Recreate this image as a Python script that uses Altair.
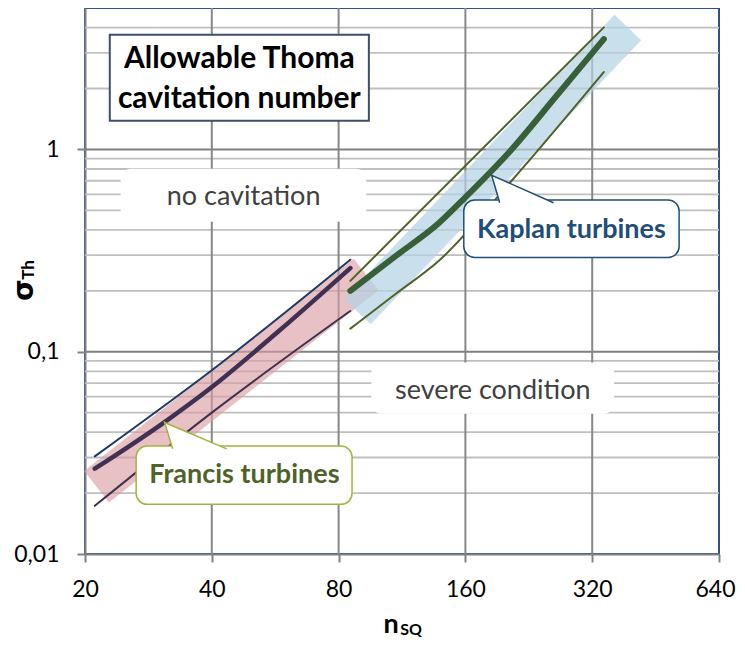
import altair as alt
import pandas as pd

# ---------------- data ----------------
x_ticks = [20, 40, 80, 160, 320, 640]
x_grid = [40, 80, 160, 320]
y_ticks = [0.01, 0.1, 1]
y_tick_labels = ["0,01", "0,1", "1"]
y_major_grid = [0.1, 1]
y_minor_grid = [0.02, 0.03, 0.04, 0.05, 0.06, 0.07, 0.08, 0.09,
                0.2, 0.3, 0.4, 0.5, 0.6, 0.7, 0.8, 0.9, 2, 3, 4]

# Francis turbines
francis_mid_n = [21.1, 30.9, 40.1, 57.7, 85.3]
francis_mid_s = [0.0264, 0.0449, 0.0671, 0.1265, 0.259]
francis_up_n = [21.1, 40, 85.3]
francis_up_s = [0.0304, 0.081, 0.285]
francis_lo_n = [21.1, 40, 85.3]
francis_lo_s = [0.0173, 0.05, 0.159]
francis_band_n = [21.3, 93.0]
francis_band_s = [0.0215, 0.241]

# Kaplan turbines
kaplan_mid_n = [85.3, 110, 138, 160, 206, 261, 341]
kaplan_mid_s = [0.2, 0.30, 0.43, 0.58, 1.0, 1.8, 3.51]
kaplan_up_n = [85.3, 341]
kaplan_up_s = [0.224, 4.01]
kaplan_lo_n = [85.3, 110, 138, 206, 341]
kaplan_lo_s = [0.13, 0.195, 0.28, 0.70, 2.41]
kaplan_band_n = [88.6, 388.8]
kaplan_band_s = [0.158, 4.01]

# annotations (data coordinates)
title_lines = ["Allowable Thoma", "cavitation number"]
title_line_s = [2.79, 1.77]
title_n = 46.5
title_box = dict(n1=22.9, n2=94.4, s1=3.69, s2=1.384)

zone_labels = ["no cavitation", "severe condition"]
zone_n = [47.6, 185.8]
zone_s = [0.583, 0.0642]
zone_box_n1 = [24.3, 95.7]
zone_box_n2 = [93.1, 360.6]
zone_box_s1 = [0.803, 0.0884]
zone_box_s2 = [0.4395, 0.0493]

kaplan_label = "Kaplan turbines"
kaplan_box = dict(n1=158.6, n2=514.6, s1=0.5616, s2=0.2922, tn=285.7, ts=0.4013)
kaplan_ptr_n = [193, 184.7, 259]
kaplan_ptr_s = [0.5446, 0.745, 0.5446]

francis_label = "Francis turbines"
francis_box = dict(n1=26.45, n2=86.1, s1=0.0342, s2=0.0176, tn=47.8, ts=0.02453)
francis_ptr_n = [32.3, 30.9, 43.4]
francis_ptr_s = [0.0331, 0.0447, 0.0331]

# ---------------- scales / axes ----------------
W, H = 634, 546
FONT = "Lato"
xs = alt.Scale(type="log", base=2, domain=[20, 640], nice=False)
ys = alt.Scale(type="log", base=10, domain=[0.01, 5], nice=False)

label_expr = " : ".join(
    f"datum.value < {v * 1.5} ? '{l}'" for v, l in zip(y_ticks[:-1], y_tick_labels[:-1])
) + f" : '{y_tick_labels[-1]}'"

x_axis = alt.Axis(values=x_ticks, title=None, grid=False, labelExpr="format(datum.value, 'd')",
                  domainColor="#808080", domainWidth=2, tickColor="#808080", tickWidth=2,
                  tickSize=8, labelFont=FONT, labelFontSize=23, labelColor="#000000",
                  labelPadding=16, labelFlush=False, labelOverlap=False,
                  labelOffset=alt.ExprRef("datum.value > 600 ? -4 : 0"))
y_axis = alt.Axis(values=y_ticks, title=None, grid=False, labelExpr=label_expr,
                  domainColor="#808080", domainWidth=2, tickColor="#808080", tickWidth=2,
                  tickSize=8, labelFont=FONT, labelFontSize=23, labelColor="#000000",
                  labelPadding=18, labelFlush=False, labelOverlap=False)


def X():
    return alt.X("n:Q", scale=xs, axis=x_axis)


def Y():
    return alt.Y("s:Q", scale=ys, axis=y_axis)


# ---------------- layers ----------------
def hrules(vals, color, width):
    return alt.Chart(pd.DataFrame({"s": vals})).mark_rule(color=color, strokeWidth=width).encode(y=Y())


def vrules(vals, color, width):
    return alt.Chart(pd.DataFrame({"n": vals})).mark_rule(color=color, strokeWidth=width).encode(x=X())


def line(ns, ss, color, width, opacity=1.0, cap="round", interp="monotone"):
    df = pd.DataFrame({"n": ns, "s": ss, "o": list(range(len(ns)))})
    return alt.Chart(df).mark_line(color=color, strokeWidth=width, strokeCap=cap,
                                   opacity=opacity, interpolate=interp).encode(
        x=X(), y=Y(), order="o:Q")


def box(n1, n2, s1, s2, fill="white", stroke=None, sw=0, radius=0):
    df = pd.DataFrame({"n": [n1], "n2": [n2], "s": [s1], "s2": [s2]})
    kw = dict(fill=fill, cornerRadius=radius)
    if stroke:
        kw.update(stroke=stroke, strokeWidth=sw)
    return alt.Chart(df).mark_rect(**kw).encode(x=X(), x2="n2:Q", y=Y(), y2="s2:Q")


def text(labels, ns, ss, color, size, weight="normal"):
    df = pd.DataFrame({"t": labels, "n": ns, "s": ss})
    return alt.Chart(df).mark_text(font=FONT, fontSize=size, fontWeight=weight, color=color,
                                   align="center", baseline="middle").encode(x=X(), y=Y(), text="t:N")


def pointer(ns, ss, stroke):
    df = pd.DataFrame({"n": ns, "s": ss, "o": [0, 1, 2]})
    return alt.Chart(df).mark_line(fill="white", stroke=stroke, strokeWidth=1.5,
                                   strokeJoin="miter", interpolate="linear").encode(
        x=X(), y=Y(), order="o:Q")


layers = [
    hrules(y_minor_grid, "#BFBFBF", 1.8),
    hrules(y_major_grid, "#808080", 2),
    vrules(x_grid, "#878787", 2),
]

# zone boxes + labels
for i in range(len(zone_labels)):
    layers.append(box(zone_box_n1[i], zone_box_n2[i], zone_box_s1[i], zone_box_s2[i], radius=10))
layers.append(text(zone_labels, zone_n, zone_s, "#404040", 27))

# bands
layers.append(line(francis_band_n, francis_band_s, "#DA9BA1", 40, opacity=0.62, cap="butt", interp="linear"))
layers.append(line(kaplan_band_n, kaplan_band_s, "#B4D2E4", 37, opacity=0.7, cap="butt", interp="linear"))

# curves
layers += [
    line(francis_up_n, francis_up_s, "#1F3864", 2),
    line(francis_lo_n, francis_lo_s, "#403152", 2),
    line(francis_mid_n, francis_mid_s, "#403152", 4.5),
    line(kaplan_up_n, kaplan_up_s, "#4F6228", 2),
    line(kaplan_lo_n, kaplan_lo_s, "#4F6228", 2),
    line(kaplan_mid_n, kaplan_mid_s, "#375F38", 6),
]

# callouts
layers += [
    box(kaplan_box["n1"], kaplan_box["n2"], kaplan_box["s1"], kaplan_box["s2"],
        stroke="#1F4E79", sw=1.5, radius=11),
    pointer(kaplan_ptr_n, kaplan_ptr_s, "#1F4E79"),
    text([kaplan_label], [kaplan_box["tn"]], [kaplan_box["ts"]], "#1F4E79", 27, "bold"),
    box(francis_box["n1"], francis_box["n2"], francis_box["s1"], francis_box["s2"],
        stroke="#A4B43C", sw=1.5, radius=11),
    pointer(francis_ptr_n, francis_ptr_s, "#A4B43C"),
    text([francis_label], [francis_box["tn"]], [francis_box["ts"]], "#4F6228", 27, "bold"),
]

# title box
layers += [
    box(title_box["n1"], title_box["n2"], title_box["s1"], title_box["s2"],
        stroke="#3F4E6E", sw=2),
    text(title_lines, [title_n, title_n], title_line_s, "#000000", 30, "bold"),
]


# axis titles with subscripts
def ptext(t, x, y, size, angle=0, font=FONT):
    kw = dict(font=font, fontSize=size, fontWeight="bold", color="#000000",
              align="center", baseline="middle")
    if angle:
        kw["angle"] = angle
    return alt.Chart(pd.DataFrame({"t": [t]})).mark_text(**kw).encode(
        x=alt.value(x), y=alt.value(y), text="t:N")


layers += [
    ptext("σ", -60, 282, 28, angle=270, font="DejaVu Sans"),
    ptext("Th", -56, 262, 17, angle=270),
    ptext("n", 306, 617, 27),
    ptext("SQ", 326, 622, 16),
]

chart = alt.layer(*layers).properties(
    width=W, height=H,
    autosize=alt.AutoSizeParams(type="none"),
    padding={"left": 77, "top": 0, "right": 18, "bottom": 86},
).configure_view(stroke="#2F528F", strokeWidth=2)

chart.save("out.html", embed_options={"renderer": "svg", "actions": False})
